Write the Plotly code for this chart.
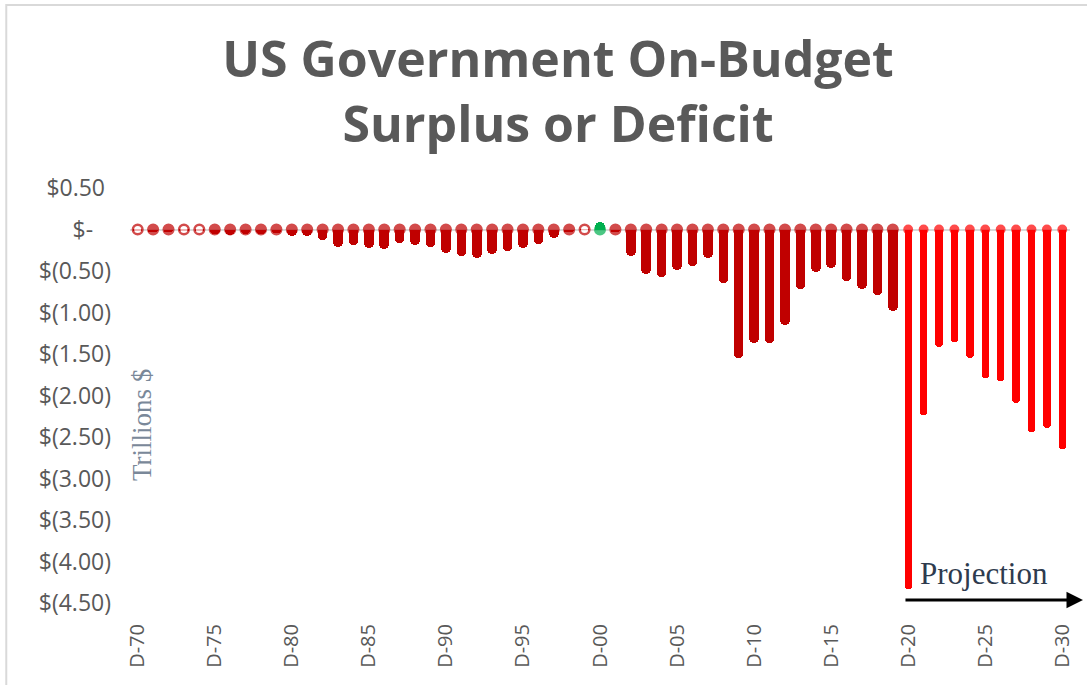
import plotly.graph_objects as go

# ---- data (trillions of dollars, fiscal years 1970-2030) ----
years = list(range(1970, 2031))
values = [
    -0.0087, -0.0261, -0.0264, -0.0154, -0.0080, -0.0553, -0.0705, -0.0498, -0.0549, -0.0387,
    -0.0727, -0.0740, -0.1206, -0.2077, -0.1853, -0.2215, -0.2379, -0.1684, -0.1923, -0.2054,
    -0.2776, -0.3214, -0.3404, -0.3004, -0.2588, -0.2264, -0.1740, -0.1032, -0.0299, 0.0019,
    0.0864, -0.0324, -0.3174, -0.5384, -0.5680, -0.4936, -0.4345, -0.3422, -0.6418, -1.5497,
    -1.3714, -1.3668, -1.1489, -0.7190, -0.5141, -0.4658, -0.6202, -0.7149, -0.7851, -0.9844,
    -4.33, -2.23, -1.42, -1.35, -1.545, -1.785, -1.83, -2.09, -2.44, -2.39,
    -2.64,
]
projection_start = 2020
tick_years = list(range(1970, 2031, 5))
tick_labels = ["D-%02d" % (y % 100) for y in tick_years]
y_tickvals = [0.5, 0, -0.5, -1.0, -1.5, -2.0, -2.5, -3.0, -3.5, -4.0, -4.5]
y_ticktext = ["$0.50\u00a0", "$-\u00a0\u00a0\u00a0", "$(0.50)", "$(1.00)", "$(1.50)", "$(2.00)",
              "$(2.50)", "$(3.00)", "$(3.50)", "$(4.00)", "$(4.50)"]

DARK, BRIGHT, GREEN = "#C00000", "#FF0000", "#00B050"

def color_for(y, v):
    if v > 0.01:
        return GREEN
    return BRIGHT if y >= projection_start else DARK

colors = [color_for(y, v) for y, v in zip(years, values)]
widths = [0.48 if y >= projection_start else 0.62 for y in years]
cap_sizes = [7.4 if y >= projection_start else 9.6 for y in years]
cap_fill = ["white" if abs(v) < 0.02 else c for v, c in zip(values, colors)]

fig = go.Figure()
fig.add_trace(go.Bar(
    x=years, y=values, width=widths,
    marker=dict(color=colors, line=dict(width=0), cornerradius="50%"),
    hoverinfo="x+y",
))
fig.add_trace(go.Scatter(
    x=years, y=[0] * len(years), mode="markers",
    marker=dict(size=cap_sizes, color=cap_fill, line=dict(color=colors, width=2.5)),
    hoverinfo="skip",
))

ML, MR, MT, MB = 130, 15, 188, 82
W, H = 1087, 685
pw, ph = W - ML - MR, H - MT - MB

def px_x(x):
    return (x - ML) / pw

def px_y(y):
    return (H - MB - y) / ph

fig.update_layout(
    width=W, height=H,
    margin=dict(l=ML, r=MR, t=MT, b=MB),
    paper_bgcolor="white", plot_bgcolor="white",
    showlegend=False,
    bargap=0,
    title=dict(
        text="US Government On-Budget<br>Surplus or Deficit",
        x=558 / W, xanchor="center", xref="container",
        y=1 - 77 / H, yanchor="top", yref="container",
        font=dict(family="Open Sans", size=50, color="#595959", weight="bold"),
    ),
    xaxis=dict(
        range=[1969.5, 2030.5], tickvals=tick_years, ticktext=tick_labels,
        tickangle=-90, showgrid=False, zeroline=False, showline=False,
        ticks="", ticklabelstandoff=16,
        tickfont=dict(family="Open Sans", size=20, color="#595959"),
    ),
    yaxis=dict(
        range=[-4.5, 0.5], tickvals=y_tickvals, ticktext=y_ticktext,
        showgrid=False, zeroline=True, zerolinecolor="#D9D9D9", zerolinewidth=2,
        showline=False, ticks="", ticklabelstandoff=18,
        tickfont=dict(family="Open Sans", size=23, color="#595959"),
    ),
    annotations=[
        dict(text="Trillions $", x=px_x(142), y=px_y(425), xref="paper", yref="paper",
             showarrow=False, textangle=-90, xanchor="center", yanchor="middle",
             font=dict(family="Liberation Serif", size=27, color="#7A8899")),
        dict(text="Projection", x=px_x(986), y=px_y(573), xref="paper", yref="paper",
             showarrow=False, xanchor="center", yanchor="middle",
             font=dict(family="Liberation Serif", size=31, color="#2E3B4E")),
        dict(text="", x=px_x(1085), y=px_y(600), xref="paper", yref="paper",
             showarrow=True, ax=-179, ay=0, arrowhead=2, arrowsize=1.1,
             arrowwidth=3, arrowcolor="black"),
    ],
    shapes=[
        dict(type="rect", xref="paper", yref="paper",
             x0=px_x(6), x1=px_x(1095), y0=px_y(5), y1=px_y(695),
             line=dict(color="#D9D9D9", width=2), fillcolor="rgba(0,0,0,0)", layer="below"),
    ],
)

fig.write_html("out.html")
